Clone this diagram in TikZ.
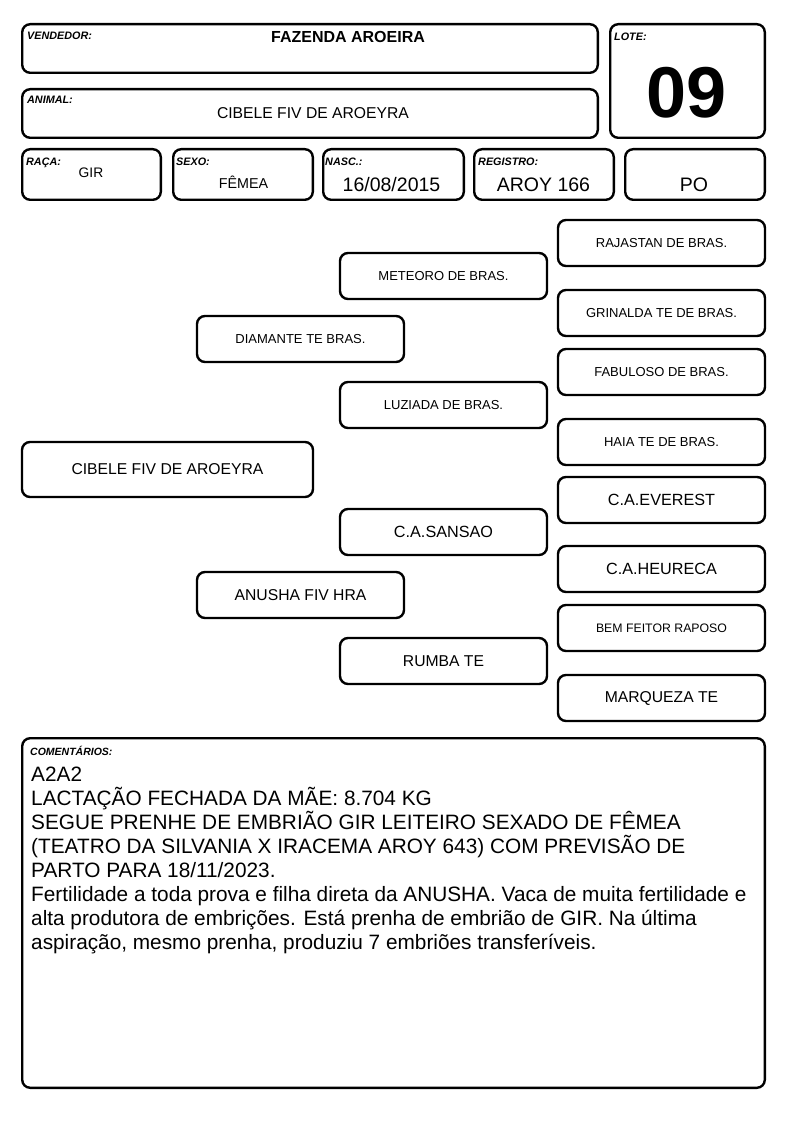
\documentclass[tikz,border=0pt]{standalone}
\usepackage{fontspec}
\setmainfont{Liberation Sans}
\tikzset{
    card/.style={draw=black, line width=2.4pt, rounded corners=8pt, inner sep=0pt},
    tag/.style={anchor=north west, inner sep=0pt, font=\bfseries\itshape\fontsize{10.8}{12}\selectfont},
    entry/.style={anchor=base, inner sep=0pt},
    pedbox/.style={card, minimum width=207, minimum height=46, align=center}
}
\newcommand{\pedSmall}{\fontsize{13}{15}\selectfont}
\newcommand{\pedBig}{\fontsize{15.7}{18}\selectfont}
% name, left, top, right, bottom
\newcommand{\cardBox}[5]{
    \node[card, minimum width={#4-#2-2.4}, minimum height={#5-#3-2.4}] (#1) at ({(#2+#4)/2},{(#3+#5)/2}) {};
}
% name, left, top, font, text
\newcommand{\pedBox}[5]{
    \node[pedbox, font=#4] (#1) at ({#2+104.5},{#3+24}) {#5};
}

\begin{document}
\begin{tikzpicture}[x=1pt, y=-1pt]
    \useasboundingbox[fill=white] (0,0) rectangle (794,1123);

    % header
    \cardBox{vendedor}{21}{23}{599}{74}
    \cardBox{lote}{609}{23}{766}{139}
    \cardBox{animal}{21}{88}{599}{139}
    \cardBox{raca}{21}{148}{162}{201}
    \cardBox{sexo}{172}{148}{314}{201}
    \cardBox{nasc}{322}{148}{465}{201}
    \cardBox{registro}{473}{148}{615}{201}
    \cardBox{po}{624}{148}{766}{201}

    \node[tag] (vendedorTag) at (27, 32) {VENDEDOR:};
    \node[tag] (loteTag) at (614, 33) {LOTE:};
    \node[tag] (animalTag) at (27, 96) {ANIMAL:};
    \node[tag] (racaTag) at (26, 157.5) {RAÇA:};
    \node[tag] (sexoTag) at (176, 157.5) {SEXO:};
    \node[tag] (nascTag) at (325, 157.5) {NASC.:};
    \node[tag] (registroTag) at (478, 157.5) {REGISTRO:};

    \node[entry, font=\bfseries\fontsize{16}{18}\selectfont] (vendedorVal) at (348, 43) {FAZENDA AROEIRA};
    \node[entry, font=\bfseries\fontsize{72}{80}\selectfont] (loteVal) at (687, 118) {09};
    \node[entry, font=\fontsize{15.7}{18}\selectfont] (animalVal) at (313, 119) {CIBELE FIV DE AROEYRA};
    \node[entry, font=\fontsize{13.8}{16}\selectfont] (racaVal) at (91, 178) {GIR};
    \node[entry, font=\fontsize{14.3}{16}\selectfont] (sexoVal) at (243.5, 189) {FÊMEA};
    \node[entry, font=\fontsize{19.5}{22}\selectfont] (nascVal) at (391.5, 192) {16/08/2015};
    \node[entry, font=\fontsize{19.5}{22}\selectfont] (registroVal) at (543.5, 192) {AROY 166};
    \node[entry, font=\fontsize{19.5}{22}\selectfont] (poVal) at (694, 192) {PO};

    % pedigree
    \node[card, minimum width=291, minimum height=55, font=\fontsize{15.7}{18}\selectfont] (cibele) at (167.5, 469.5) {CIBELE FIV DE AROEYRA};

    \pedBox{diamante}{196}{315}{\pedSmall}{DIAMANTE TE BRAS.}
    \pedBox{anusha}{196}{571}{\pedBig}{ANUSHA FIV HRA}

    \pedBox{meteoro}{339}{252}{\pedSmall}{METEORO DE BRAS.}
    \pedBox{luziada}{339}{381}{\pedSmall}{LUZIADA DE BRAS.}
    \pedBox{sansao}{339}{508}{\fontsize{16.2}{18}\selectfont}{C.A.SANSAO}
    \pedBox{rumba}{339}{637}{\pedBig}{RUMBA TE}

    \pedBox{rajastan}{557}{219}{\pedSmall}{RAJASTAN DE BRAS.}
    \pedBox{grinalda}{557}{289}{\pedSmall}{GRINALDA TE DE BRAS.}
    \pedBox{fabuloso}{557}{348}{\pedSmall}{FABULOSO DE BRAS.}
    \pedBox{haia}{557}{418}{\pedSmall}{HAIA TE DE BRAS.}
    \pedBox{everest}{557}{476}{\fontsize{16.2}{18}\selectfont}{C.A.EVEREST}
    \pedBox{heureca}{557}{545}{\fontsize{16.2}{18}\selectfont}{C.A.HEURECA}
    \pedBox{bemfeitor}{557}{604}{\fontsize{12.3}{14}\selectfont}{BEM FEITOR RAPOSO}
    \pedBox{marqueza}{557}{674}{\pedBig}{MARQUEZA TE}

    % comments
    \cardBox{comentarios}{21}{737}{766}{1089}
    \node[tag, font=\bfseries\itshape\fontsize{10.5}{11}\selectfont] (comentariosTag) at (30, 746.5) {COMENTÁRIOS:};
    \node[anchor=north west, inner sep=0pt, align=left, font=\fontsize{20.8}{24}\selectfont] (comentariosVal) at (31, 767) {A2A2\\
        LACTAÇÃO FECHADA DA MÃE: 8.704 KG\\
        SEGUE PRENHE DE EMBRIÃO GIR LEITEIRO SEXADO DE FÊMEA\\
        (TEATRO DA SILVANIA X IRACEMA AROY 643) COM PREVISÃO DE\\
        PARTO PARA 18/11/2023.\\
        Fertilidade a toda prova e filha direta da ANUSHA. Vaca de muita fertilidade e\\
        alta produtora de embrições. Está prenha de embrião de GIR. Na última\\
        aspiração, mesmo prenha, produziu 7 embriões transferíveis.};
\end{tikzpicture}
\end{document}
